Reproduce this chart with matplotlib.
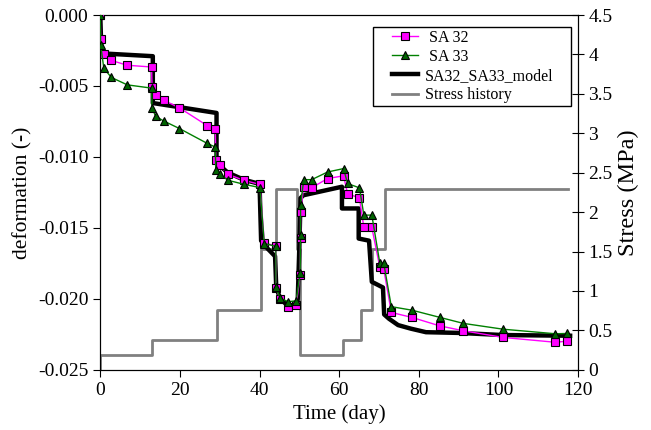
import numpy as np
import matplotlib
matplotlib.use("Agg")
import matplotlib.pyplot as plt
from matplotlib.ticker import FuncFormatter
from matplotlib.patches import Rectangle

plt.rcParams['font.family'] = ['Liberation Serif', 'DejaVu Serif']
plt.rcParams['axes.unicode_minus'] = False

# SA 32 measurements (time in days, deformation)
t_sa32 = [0, 0.1, 0.9, 2.8, 6.8, 12.9, 13.0, 13.9, 15.9, 19.9, 26.9, 28.9, 29.0, 30.0,
          32.0, 36.0, 40.1, 41.2, 44.1, 44.1, 45.2, 47.2, 49.2, 50.2, 50.3, 50.3,
          51.1, 53.1, 57.1, 61.1, 62.1, 65.1, 66.2, 68.2, 70.2, 71.2, 73.1, 78.3,
          85.2, 91.2, 101.2, 114.3, 117.3]
d_sa32 = [0, -0.0017, -0.00277, -0.0032, -0.00354, -0.00366, -0.0051, -0.0056, -0.0060,
          -0.00654, -0.0078, -0.00803, -0.01020, -0.01056, -0.01122, -0.01164, -0.01194,
          -0.01603, -0.01630, -0.01925, -0.02002, -0.02058, -0.02044, -0.01833, -0.01570,
          -0.01387, -0.01209, -0.01217, -0.01152, -0.01133, -0.01258, -0.01290, -0.01497,
          -0.01497, -0.01775, -0.01792, -0.02096, -0.02131, -0.0219, -0.02225, -0.02272,
          -0.02306, -0.02298]

# SA 33 measurements
t_sa33 = [0, 0.1, 0.9, 2.8, 6.8, 12.9, 13.0, 13.9, 15.9, 19.9, 26.9, 28.9, 29.0, 30.0,
          32.0, 36.0, 40.1, 41.2, 44.1, 44.1, 45.2, 47.2, 49.2, 50.2, 50.3, 50.3,
          51.1, 53.1, 57.1, 61.1, 62.1, 65.1, 66.2, 68.2, 70.2, 71.2, 73.1, 78.3,
          85.2, 91.2, 101.2, 114.3, 117.3]
d_sa33 = [0, -0.0021, -0.00376, -0.0044, -0.00492, -0.00515, -0.00655, -0.00713, -0.00746,
          -0.0080, -0.00905, -0.0093, -0.01094, -0.01117, -0.01164, -0.01192, -0.01216,
          -0.01610, -0.01630, -0.01920, -0.01997, -0.0202, -0.02014, -0.0182, -0.0155,
          -0.0134, -0.0116, -0.0116, -0.01106, -0.01082, -0.01187, -0.01218, -0.0141,
          -0.0141, -0.01746, -0.0175, -0.02055, -0.0208, -0.0213, -0.02173, -0.02214,
          -0.02246, -0.02244]

# model curve
t_model = [0, 0.3, 13.2, 13.2, 29.2, 29.2, 30.0, 32.0, 36.0, 40.0, 40.4, 42.0, 43.9, 44.2,
           45.2, 47.2, 49.2, 49.6, 50.0, 50.3, 51.0, 60.7, 60.7, 64.9, 64.9, 67.5, 68.2,
           71.0, 71.3, 72.5, 74.8, 78.0, 81.8, 90.0, 101.0, 118.0]
d_model = [0, -0.0027, -0.0029, -0.0062, -0.0069, -0.0103, -0.0106, -0.0111, -0.0116,
           -0.0119, -0.0159, -0.01645, -0.0170, -0.0192, -0.0200, -0.0205, -0.0204,
           -0.0200, -0.0163, -0.0129, -0.0127, -0.0121, -0.01363, -0.01363, -0.01575,
           -0.0159, -0.0188, -0.0192, -0.0211, -0.0214, -0.02185, -0.0221, -0.02235,
           -0.0224, -0.02255, -0.0226]

# stress history (MPa), step changes
t_stress = [0, 0, 13.1, 29.2, 40.3, 44.1, 49.5, 50.1, 61.0, 65.5, 68.3, 71.6, 117.5]
s_stress = [0, 0.19, 0.38, 0.76, 1.53, 2.29, 1.53, 0.19, 0.38, 0.76, 1.53, 2.29, 2.29]

fig, ax = plt.subplots(figsize=(6.51, 4.30), dpi=100)
fig.subplots_adjust(left=0.154, right=0.888, top=0.965, bottom=0.14)
ax2 = ax.twinx()

ax.plot(t_sa32, d_sa32, "-", color="#ff00ff", lw=1, marker="s", ms=6,
        mfc="#ff00ff", mec="black", mew=0.8, label=" SA 32", zorder=3)
ax.plot(t_sa33, d_sa33, "-", color="#008000", lw=1, marker="^", ms=6,
        mfc="#006400", mec="black", mew=0.8, label=" SA 33", zorder=3)
ax.plot(t_model, d_model, "-", color="black", lw=3.2, label="SA32_SA33_model", zorder=2)
l_stress, = ax2.step(t_stress, s_stress, where="post", color="#808080", lw=2,
                     label="Stress history")

ax.set_xlim(0, 120)
ax.set_ylim(-0.025, 0)
ax.set_xticks(np.arange(0, 121, 20))
ax.set_yticks(np.arange(-0.025, 0.0001, 0.005))
ax.yaxis.set_major_formatter(FuncFormatter(lambda v, p: "%.3f" % v if abs(v) > 1e-9 else "0.000"))
ax2.set_ylim(0, 4.5)
ax2.set_yticks(np.arange(0, 4.51, 0.5))
ax2.yaxis.set_major_formatter(FuncFormatter(lambda v, p: "%g" % v))

ax.tick_params(direction="out", labelsize=14, length=5)
ax2.tick_params(direction="inout", labelsize=14, length=8)
ax.set_xlabel("Time (day)", fontsize=15)
ax.set_ylabel("deformation (-)", fontsize=15.5)
ax2.set_ylabel("Stress (MPa)", fontsize=17.5)

ax.set_zorder(ax2.get_zorder() + 1)
ax.patch.set_visible(False)

# legend box drawn separately (wide side padding as in the original)
ax.add_patch(Rectangle((0.571, 0.744), 0.414, 0.222, transform=ax.transAxes,
                       facecolor="white", edgecolor="black", lw=1, zorder=4))
h, l = ax.get_legend_handles_labels()
leg = ax.legend(h + [l_stress], l + ["Stress history"], loc="upper left",
                bbox_to_anchor=(0.611, 0.959), borderaxespad=0, borderpad=0,
                fontsize=11.5, frameon=False, handlelength=1.6,
                handletextpad=0.45, labelspacing=0.2)
leg.set_zorder(5)

fig.savefig("out.png")
